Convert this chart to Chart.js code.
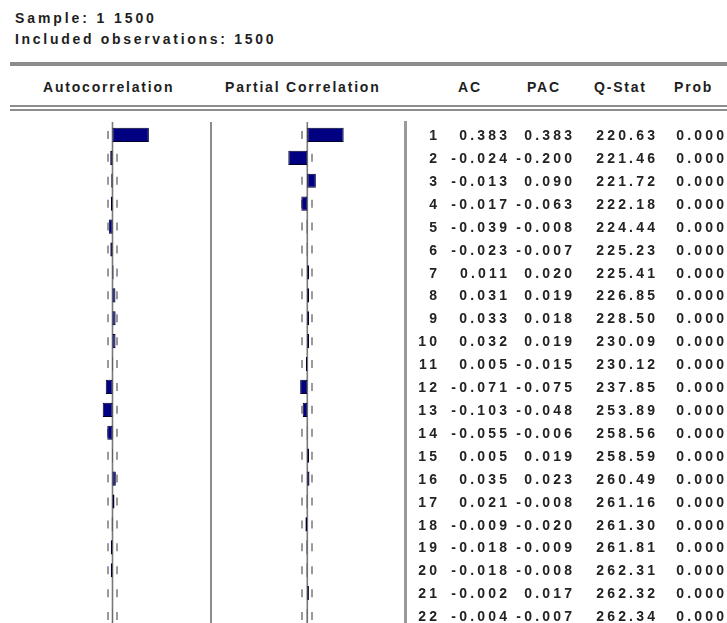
<!DOCTYPE html>
<html>
<head>
<meta charset="utf-8">
<title>Correlogram</title>
<script src="https://cdn.jsdelivr.net/npm/chart.js@4"></script>
<style>
  html, body { margin: 0; padding: 0; background: #fff; overflow: hidden; width: 727px; height: 623px; }
  body { position: relative; font-family: "Liberation Sans", Arial, sans-serif; font-weight: bold; color: #1e1e1e; }
  #cg { position: absolute; left: 0; top: 0; }
  .t { position: absolute; white-space: nowrap; font-size: 14px; line-height: 16px; }
  .hd { letter-spacing: 1.8px; }
  .rule { position: absolute; background: #8c8c8c; }
  .num { position: absolute; width: 100px; text-align: right; font-size: 14px; line-height: 16px;
         letter-spacing: 3.2px; white-space: nowrap; color: #222; }
</style>
</head>
<body>

<div class="t" style="left:15px;top:10px;letter-spacing:2.9px">Sample: 1 1500</div>
<div class="t" style="left:15px;top:31px;letter-spacing:2.7px">Included observations: 1500</div>

<div class="rule" style="left:10px;top:62px;width:717px;height:4px"></div>

<div class="t hd" style="left:43px;top:79px">Autocorrelation</div>
<div class="t hd" style="left:225px;top:79px">Partial Correlation</div>
<div class="t hd" style="left:458px;top:79px">AC</div>
<div class="t hd" style="left:527px;top:79px">PAC</div>
<div class="t hd" style="left:594px;top:79px">Q-Stat</div>
<div class="t hd" style="left:674px;top:79px">Prob</div>

<div class="rule" style="left:10px;top:105px;width:717px;height:2px"></div>
<div class="rule" style="left:10px;top:109px;width:717px;height:2px"></div>

<div class="rule" style="left:210px;top:122px;width:2px;height:510px"></div>
<div class="rule" style="left:404px;top:121px;width:3px;height:510px;background:#999"></div>

<canvas id="cg" width="727" height="630"></canvas>
<div id="rows"></div>

<script>
// ── DATA ─────────────────────────────────────────────────
const nObs = 1500;
const lags = [1, 2, 3, 4, 5, 6, 7, 8, 9, 10, 11, 12, 13, 14, 15, 16, 17, 18, 19, 20, 21, 22];
const acValues  = [0.383, -0.024, -0.013, -0.017, -0.039, -0.023, 0.011, 0.031, 0.033, 0.032, 0.005,
                   -0.071, -0.103, -0.055, 0.005, 0.035, 0.021, -0.009, -0.018, -0.018, -0.002, -0.004];
const pacValues = [0.383, -0.200, 0.090, -0.063, -0.008, -0.007, 0.020, 0.019, 0.018, 0.019, -0.015,
                   -0.075, -0.048, -0.006, 0.019, 0.023, -0.008, -0.020, -0.009, -0.008, 0.017, -0.007];
const qStat     = [220.63, 221.46, 221.72, 222.18, 224.44, 225.23, 225.41, 226.85, 228.50, 230.09, 230.12,
                   237.85, 253.89, 258.56, 258.59, 260.49, 261.16, 261.30, 261.81, 262.31, 262.32, 262.34];
const probValues = [0, 0, 0, 0, 0, 0, 0, 0, 0, 0, 0, 0, 0, 0, 0, 0, 0, 0, 0, 0, 0, 0];

const bound = 2 / Math.sqrt(nObs);

// ── GUIDES: zero lines + dashed +/- 2 s.e. marks ─────────
const guides = {
  id: 'guides',
  beforeDatasetsDraw(chart) {
    const ctx = chart.ctx;
    const y = chart.scales.y;
    ['xa', 'xp'].forEach(id => {
      const sc = chart.scales[id];
      const x0 = sc.getPixelForValue(0);
      ctx.save();
      ctx.strokeStyle = '#7a7a7a';
      ctx.lineWidth = 1.6;
      ctx.beginPath();
      ctx.moveTo(x0, 122);
      ctx.lineTo(x0, chart.height);
      ctx.stroke();

      ctx.strokeStyle = '#9a9a9a';
      ctx.lineWidth = 2;
      lags.forEach((_, i) => {
        const yc = y.getPixelForValue(i);
        [-bound, bound].forEach(b => {
          const xb = Math.round(sc.getPixelForValue(b));
          ctx.beginPath();
          ctx.moveTo(xb, yc - 4);
          ctx.lineTo(xb, yc + 4);
          ctx.stroke();
        });
      });
      ctx.restore();
    });
  }
};

// ── CHART ────────────────────────────────────────────────
const pxPerUnit = 95;
const barStyle = {
  backgroundColor: '#000080',
  borderColor: '#00002a',
  borderWidth: 1,
  borderSkipped: false,
  grouped: false,
  categoryPercentage: 1,
  barPercentage: 0.62
};

const chart = new Chart(document.getElementById('cg'), {
  type: 'bar',
  data: {
    labels: lags,
    datasets: [
      { data: acValues,  xAxisID: 'xa', ...barStyle },
      { data: pacValues, xAxisID: 'xp', ...barStyle }
    ]
  },
  options: {
    indexAxis: 'y',
    responsive: false,
    animation: false,
    events: [],
    layout: { padding: { top: 123.5, bottom: 2.5, left: 0, right: 0 } },
    plugins: { legend: { display: false }, tooltip: { enabled: false } },
    scales: {
      y:  { display: false, grid: { display: false } },
      xa: { type: 'linear', display: false, min: -112.5 / pxPerUnit, max: (727 - 112.5) / pxPerUnit },
      xp: { type: 'linear', display: false, min: -307.3 / pxPerUnit, max: (727 - 307.3) / pxPerUnit }
    }
  },
  plugins: [guides]
});

// ── TABLE TEXT (rows follow the category scale) ──────────
const rows = document.getElementById('rows');
const colRight = [437, 507, 572, 655, 724];
function cell(text, right, top) {
  const d = document.createElement('div');
  d.className = 'num';
  d.textContent = text;
  d.style.left = (right + 3.2 - 100) + 'px';
  d.style.top = top + 'px';
  rows.appendChild(d);
}
lags.forEach((lag, i) => {
  const top = chart.scales.y.getPixelForValue(i) - 7.85;
  cell(String(lag), colRight[0], top);
  cell(acValues[i].toFixed(3), colRight[1], top);
  cell(pacValues[i].toFixed(3), colRight[2], top);
  cell(qStat[i].toFixed(2), colRight[3], top);
  cell(probValues[i].toFixed(3), colRight[4], top);
});
</script>
</body>
</html>
